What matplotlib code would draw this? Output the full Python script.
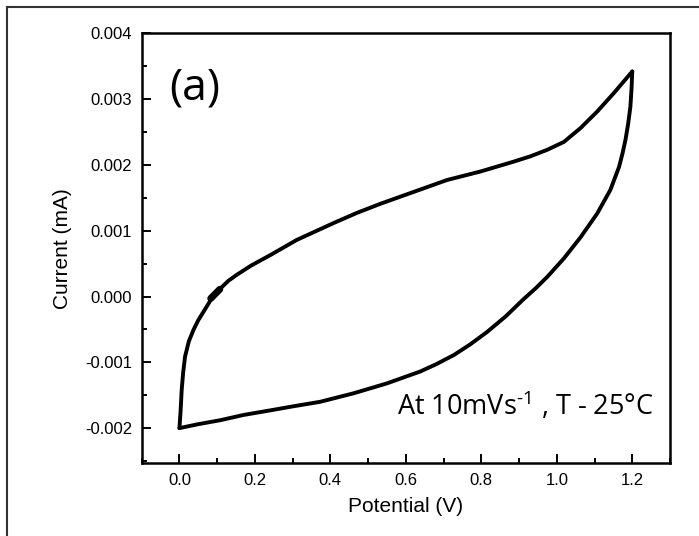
import matplotlib
matplotlib.use("Agg")
import matplotlib.pyplot as plt
from matplotlib.ticker import MultipleLocator, FormatStrFormatter
from matplotlib.lines import Line2D

plt.rcParams['font.family'] = ['Liberation Sans', 'DejaVu Sans']
plt.rcParams['axes.unicode_minus'] = False
plt.rcParams['mathtext.fontset'] = 'custom'
plt.rcParams['mathtext.rm'] = 'Open Sans'
plt.rcParams['mathtext.default'] = 'regular'

# Forward (anodic) scan: 0 V -> 1.2 V
fwd_x = [0.000, 0.003, 0.006, 0.010, 0.015, 0.025, 0.037, 0.050, 0.064, 0.078,
         0.090, 0.110, 0.130, 0.152, 0.190, 0.241, 0.311, 0.410, 0.470, 0.533,
         0.621, 0.709, 0.798, 0.886, 0.930, 0.975, 1.019, 1.063, 1.107, 1.151, 1.200]
fwd_y = [-0.00200, -0.00175, -0.00142, -0.00115, -0.00091, -0.00068, -0.00051, -0.00036,
         -0.00023, -0.00010, 0.00002, 0.00013, 0.00024, 0.00033, 0.00047, 0.00063,
         0.00086, 0.00112, 0.00127, 0.00141, 0.00159, 0.00177, 0.00190, 0.00205,
         0.00213, 0.00223, 0.00235, 0.00256, 0.00281, 0.00309, 0.00342]

# Reverse (cathodic) scan: 1.2 V -> 0 V
rev_x = [1.200, 1.198, 1.195, 1.189, 1.182, 1.174, 1.165, 1.142, 1.107, 1.063,
         1.019, 0.975, 0.945, 0.912, 0.865, 0.815, 0.770, 0.727, 0.680, 0.638,
         0.550, 0.462, 0.373, 0.300, 0.241, 0.170, 0.108, 0.050, 0.000]
rev_y = [0.00342, 0.00315, 0.00288, 0.00262, 0.00238, 0.00217, 0.00197, 0.00162,
         0.00126, 0.00090, 0.00058, 0.00030, 0.00013, -0.00004, -0.00030, -0.00054,
         -0.00073, -0.00089, -0.00103, -0.00114, -0.00132, -0.00147, -0.00160,
         -0.00167, -0.00173, -0.00180, -0.00188, -0.00194, -0.00200]

# start / end point of the scan
start_x = [0.083, 0.107]
start_y = [-0.00003, 0.00011]

x_ticks = [0.0, 0.2, 0.4, 0.6, 0.8, 1.0, 1.2]
y_ticks = [-0.002, -0.001, 0.000, 0.001, 0.002, 0.003, 0.004]

fig = plt.figure(figsize=(6.99, 5.36), dpi=100)
ax = fig.add_axes([0.2027, 0.1362, 0.7558, 0.8017])

ax.plot(fwd_x, fwd_y, color='black', lw=2.8, solid_capstyle='round', solid_joinstyle='round')
ax.plot(rev_x, rev_y, color='black', lw=2.8, solid_capstyle='round', solid_joinstyle='round')
ax.plot(start_x, start_y, color='black', lw=5, solid_capstyle='round')

ax.set_xlim(-0.1, 1.3)
ax.set_ylim(-0.00253, 0.004)
ax.set_xticks(x_ticks)
ax.set_yticks(y_ticks)
ax.xaxis.set_minor_locator(MultipleLocator(0.1))
ax.yaxis.set_minor_locator(MultipleLocator(0.0005))
ax.xaxis.set_major_formatter(FormatStrFormatter('%.1f'))
ax.yaxis.set_major_formatter(FormatStrFormatter('%.3f'))

ax.tick_params(which='both', direction='in', top=False, right=False, width=1.4, labelsize=12, pad=7)
ax.tick_params(which='major', length=6.5)
ax.tick_params(which='minor', length=3.5)
for s in ax.spines.values():
    s.set_linewidth(1.8)

ax.set_xlabel('Potential (V)', fontsize=15, labelpad=7)
ax.set_ylabel('Current (mA)', fontsize=15, labelpad=9)

ax.text(0.052, 0.873, '(a)', transform=ax.transAxes, fontsize=32,
        family=['Open Sans', 'DejaVu Sans'], ha='left', va='center')
ax.text(0.969, 0.112, r'At 10mVs$^{\text{-}1}$ , T - 25°C', transform=ax.transAxes, fontsize=19.5,
        family=['Open Sans', 'DejaVu Sans'], ha='right', va='baseline')

# outer figure frame (top and left edges)
fig.add_artist(Line2D([7/699, 1.0], [1 - 7/536, 1 - 7/536], transform=fig.transFigure,
                      color='#333333', lw=1.5))
fig.add_artist(Line2D([7/699, 7/699], [0.0, 1 - 7/536], transform=fig.transFigure,
                      color='#333333', lw=1.5))

fig.savefig('out.png', dpi=100)
